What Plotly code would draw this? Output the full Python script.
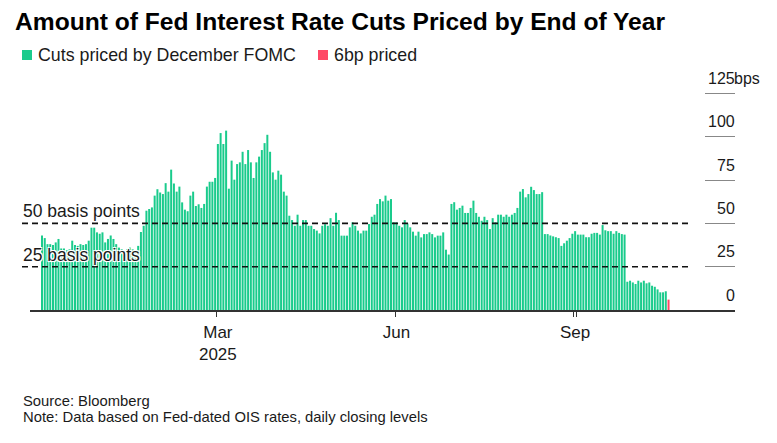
import pandas as pd
import plotly.graph_objects as go

# ---------------- data ----------------
start_date = "2024-12-03"
end_date = "2025-10-17"
trading_days = [d.strftime("%Y-%m-%d") for d in pd.bdate_range(start_date, end_date)]

# Cuts priced by December FOMC (bps), one value per trading day
cuts_priced_bps = [
    43, 41.5, 38, 38, 37.5, 39, 41, 35.5, 35.5, 34.5, 35, 40, 37.5, 37, 38, 37.5, 38, 40, 47.5, 47.5,
    44.8, 44, 44.8, 39, 41, 43, 41, 38, 36, 35, 34, 35, 36, 35, 34, 37, 45, 48.6, 57.3, 58.3,
    59.2, 66, 69.7, 67.8, 66.9,
    73.2, 68.3, 81, 73, 68.3, 71.2, 62.1, 57.9, 57, 66, 68.3, 60, 61, 58.9, 61.2, 71.2, 74, 74, 76.2, 95.8,
    102.1, 95.8, 103.5, 70, 86.2, 75.2, 84.2, 85.2, 91.3, 84.2, 92.3, 85.2, 76.2, 85.2, 88.5, 92.3, 96.3, 101.1, 91.3, 79.4,
    75.2, 80.4, 78.1, 68.3, 66,
    54.4, 51.9, 48.6, 55, 48.6, 51.9, 51.9, 48.6, 48.6, 46.7, 45.8, 44.2, 48.6, 49.5, 48.6, 53, 48.6, 56.1, 51.9, 42.9,
    42.9, 42.9, 47.7, 50.6, 48.6, 45.8, 44.2, 45.8, 45.8, 49.6, 53.8, 55, 61.2, 64, 62.7, 66, 63.1, 64, 50.6, 50.6,
    48.6, 47.7, 51.9, 49.9, 47.7, 45.2, 42.9, 45.2, 41.9,
    43.8, 43.8, 44.8, 43.8, 41.9, 42.9, 42.9, 44.8, 34.8, 32,
    61.2, 62.2, 57.9, 58.9, 60.2, 56, 56, 58.9, 63.1, 56, 53.8, 51.5, 53.8, 51.9, 46.7, 53, 50.6, 55, 55, 53.8,
    55, 53.8, 55, 56, 58.9, 68.3, 69.8, 65, 66.9, 71.1, 69.2, 66.9, 66.9, 68,
    43.8, 43.8, 43, 42.5, 42, 41.5, 37, 38.5, 40, 41.5, 44, 45.5, 43.5, 43.5, 43.5, 42, 42, 44, 44.5, 44.5,
    43.5, 49, 46, 45.5, 45.5, 44, 45.5, 44.5, 43.8, 43.5,
    16.3, 16.9, 15.9, 15, 16.9, 15.9, 16.9, 15.4, 15.9, 14, 13.4, 11.9, 10.2, 10.2, 10.8,
]
latest_priced_bps = [6]

month_tick_dates = ["2025-03-03", "2025-06-02", "2025-09-01"]
month_tick_labels = ["Mar<br>2025", "Jun", "Sep"]
y_tick_values = [0, 25, 50, 75, 100, 125]
y_tick_labels = ["0", "25", "50", "75", "100", "125"]
y_unit_label = "bps"
reference_levels = [25, 50]
reference_labels = ["25 basis points", "50 basis points"]

green_dates = trading_days[: len(cuts_priced_bps)]
red_dates = trading_days[len(cuts_priced_bps): len(cuts_priced_bps) + len(latest_priced_bps)]

# ---------------- layout geometry (screen pixels; page body has an 8px margin) ----------------
VIEW_W, VIEW_H, OFF = 777, 443, 8
W, H = VIEW_W - OFF, VIEW_H - OFF
SL, SR, ST, SB = 30, 735, 62, 310          # plot area on screen
PX_PER_BAR = 2.748
FIRST_BAR_X = 42.0
PX_PER_BP = 1.733

def px_x(sx):
    return (sx - SL) / (SR - SL)

def px_y(sy):
    return (SB - sy) / (SB - ST)

x_lo = (SL - FIRST_BAR_X) / PX_PER_BAR
x_hi = x_lo + (SR - SL) / PX_PER_BAR
y_hi = (SB - ST) / PX_PER_BP

GREEN = "#1acb8c"
RED = "#ff4866"
TXT = "#1a1a1a"
FONT = "Liberation Sans, Arial, sans-serif"
HALO = "white 1px 1px 0px, white -1px -1px 0px, white 1px -1px 0px, white -1px 1px 0px, white 0px 1px 1px"

fig = go.Figure()
fig.add_trace(go.Bar(x=green_dates, y=cuts_priced_bps, marker=dict(color=GREEN, line=dict(width=0)),
                     name="Cuts priced by December FOMC", showlegend=False))
fig.add_trace(go.Bar(x=red_dates, y=latest_priced_bps, marker=dict(color=RED, line=dict(width=0)),
                     name="6bp priced", showlegend=False))

shapes = []
annotations = []
for lvl, lab in zip(reference_levels, reference_labels):
    shapes.append(dict(type="line", xref="paper", yref="y", x0=px_x(22), x1=px_x(690), y0=lvl, y1=lvl,
                       line=dict(color="#111111", width=1.6, dash="6px,4px")))
    annotations.append(dict(text=lab, xref="paper", yref="y", x=px_x(21), y=lvl, xanchor="left",
                            yanchor="bottom", yshift=0, showarrow=False,
                            font=dict(family=FONT, size=17.5, color=TXT, shadow=HALO)))

# y tick labels (above the short tick marks, right aligned)
for v, t in zip(y_tick_values, y_tick_labels):
    annotations.append(dict(text=t, xref="paper", yref="y", x=px_x(734.5), y=v, xanchor="right",
                            yanchor="middle", yshift=15, xshift=1.5, showarrow=False, borderpad=0,
                            font=dict(family=FONT, size=16, color=TXT)))
annotations.append(dict(text=y_unit_label, xref="paper", yref="y", x=px_x(734.5), y=y_tick_values[-1],
                        xanchor="left", yanchor="middle", yshift=15, xshift=-1.5, showarrow=False, borderpad=0,
                        font=dict(family=FONT, size=16, color=TXT)))

# legend (manual)
shapes.append(dict(type="rect", xref="paper", yref="paper", x0=px_x(22), x1=px_x(32), y0=px_y(60), y1=px_y(50),
                   fillcolor=GREEN, line=dict(width=0)))
shapes.append(dict(type="rect", xref="paper", yref="paper", x0=px_x(318), x1=px_x(328), y0=px_y(60), y1=px_y(50),
                   fillcolor=RED, line=dict(width=0)))
annotations.append(dict(text="Cuts priced by December FOMC", xref="paper", yref="paper", x=px_x(36), y=px_y(55),
                        xanchor="left", yanchor="middle", showarrow=False, font=dict(family=FONT, size=17.8, color=TXT)))
annotations.append(dict(text="6bp priced", xref="paper", yref="paper", x=px_x(332), y=px_y(55),
                        xanchor="left", yanchor="middle", showarrow=False, font=dict(family=FONT, size=17.8, color=TXT)))

# title
annotations.append(dict(text="<b>Amount of Fed Interest Rate Cuts Priced by End of Year</b>", xref="paper", yref="paper",
                        x=px_x(13), y=px_y(22), xanchor="left", yanchor="middle", showarrow=False,
                        font=dict(family=FONT, size=24.6, color="#000000")))
# footer
annotations.append(dict(text="Source: Bloomberg", xref="paper", yref="paper", x=px_x(21), y=px_y(401),
                        xanchor="left", yanchor="middle", showarrow=False, font=dict(family=FONT, size=14.8, color=TXT)))
annotations.append(dict(text="Note: Data based on Fed-dated OIS rates, daily closing levels", xref="paper", yref="paper",
                        x=px_x(21), y=px_y(417), xanchor="left", yanchor="middle", showarrow=False,
                        font=dict(family=FONT, size=14.8, color=TXT)))

fig.update_layout(
    width=W, height=H,
    margin=dict(l=SL - OFF, r=VIEW_W - SR, t=ST - OFF, b=VIEW_H - SB, pad=0, autoexpand=False),
    paper_bgcolor="white", plot_bgcolor="white",
    barmode="overlay", bargap=0.27,
    showlegend=False,
    font=dict(family=FONT, color=TXT),
    shapes=shapes, annotations=annotations,
    xaxis=dict(type="category", range=[x_lo, x_hi], showgrid=False, zeroline=False, automargin=False,
               showline=True, linecolor="#333333", linewidth=1.5, tickangle=0,
               ticks="outside", ticklen=5, tickcolor="#333333", tickwidth=1.2, tickson="boundaries",
               tickmode="array", tickvals=month_tick_dates, ticktext=month_tick_labels,
               ticklabelstandoff=6,
               tickfont=dict(family=FONT, size=17, color=TXT)),
    yaxis=dict(side="right", range=[0, y_hi], showgrid=False, zeroline=False, showline=False, automargin=False,
               ticks="inside", ticklen=30, tickcolor="#888888", tickwidth=1,
               tickmode="array", tickvals=y_tick_values, showticklabels=False),
)

fig.write_html("out.html")
